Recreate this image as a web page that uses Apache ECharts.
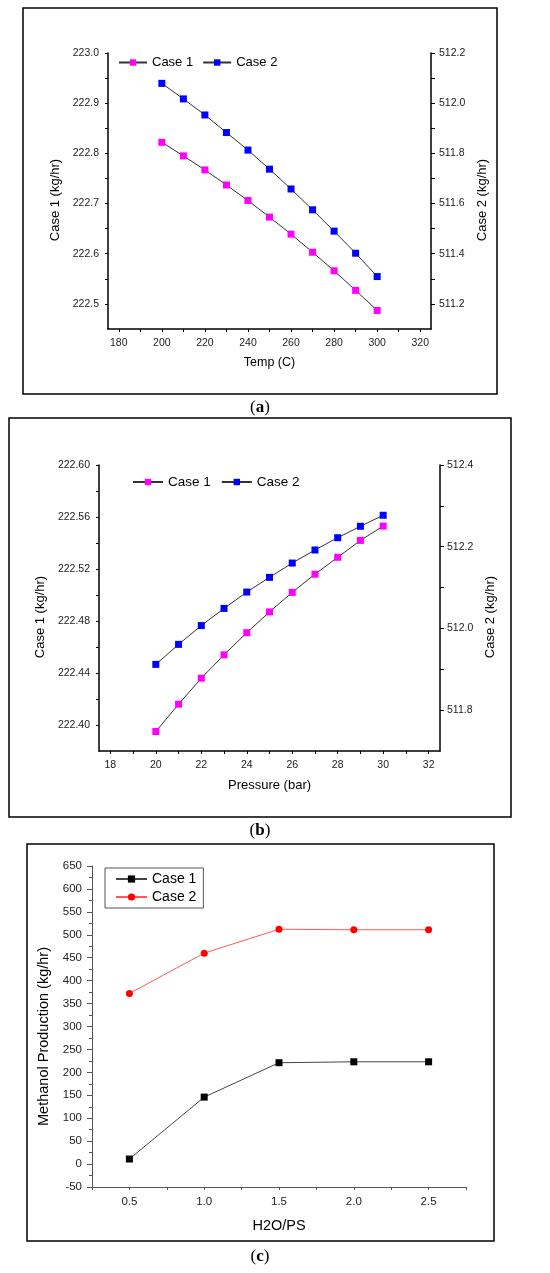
<!DOCTYPE html>
<html>
<head>
<meta charset="utf-8">
<script src="https://cdn.jsdelivr.net/npm/echarts@6/dist/echarts.min.js"></script>
<style>
  html, body { margin: 0; padding: 0; background: #fff; }
  #chart { width: 550px; height: 1273px; }
</style>
</head>
<body>
<div id="chart"></div>
<script>
// (a) temperature sweep
const tempX = [200, 210, 220, 230, 240, 250, 260, 270, 280, 290, 300];
const tempCase1 = [222.822, 222.795, 222.767, 222.737, 222.706, 222.673, 222.639, 222.603, 222.566, 222.527, 222.487];
const tempCase2 = [512.079, 512.017, 511.953, 511.883, 511.813, 511.737, 511.658, 511.575, 511.490, 511.402, 511.309];

// (b) pressure sweep
const pressX = [20, 21, 22, 23, 24, 25, 26, 27, 28, 29, 30];
const pressCase1 = [222.395, 222.416, 222.436, 222.454, 222.471, 222.487, 222.502, 222.516, 222.529, 222.542, 222.553];
const pressCase2 = [511.912, 511.961, 512.007, 512.049, 512.089, 512.125, 512.160, 512.192, 512.222, 512.250, 512.277];

// (c) H2O/PS ratio
const ratioX = [0.5, 1.0, 1.5, 2.0, 2.5];
const ratioCase1 = [11, 146, 221, 223, 223];
const ratioCase2 = [372, 460, 512, 511, 511];

// tick positions and labels
const tempTicks = [180, 190, 200, 210, 220, 230, 240, 250, 260, 270, 280, 290, 300, 310, 320];
const tempLabels = [180, 200, 220, 240, 260, 280, 300, 320];
const aLeftTicks = [222.5, 222.55, 222.6, 222.65, 222.7, 222.75, 222.8, 222.85, 222.9, 222.95, 223.0];
const aLeftLabels = [222.5, 222.6, 222.7, 222.8, 222.9, 223.0];
const aRightTicks = [511.2, 511.3, 511.4, 511.5, 511.6, 511.7, 511.8, 511.9, 512.0, 512.1, 512.2];
const aRightLabels = [511.2, 511.4, 511.6, 511.8, 512.0, 512.2];
const pressTicks = [18, 19, 20, 21, 22, 23, 24, 25, 26, 27, 28, 29, 30, 31, 32];
const pressLabels = [18, 20, 22, 24, 26, 28, 30, 32];
const bLeftTicks = [222.40, 222.42, 222.44, 222.46, 222.48, 222.50, 222.52, 222.54, 222.56, 222.58, 222.60];
const bLeftLabels = [222.40, 222.44, 222.48, 222.52, 222.56, 222.60];
const bRightTicks = [511.8, 511.9, 512.0, 512.1, 512.2, 512.3, 512.4];
const bRightLabels = [511.8, 512.0, 512.2, 512.4];
const ratioTicks = [0.25, 0.5, 0.75, 1.0, 1.25, 1.5, 1.75, 2.0, 2.25, 2.5, 2.75];
const ratioLabels = [0.5, 1.0, 1.5, 2.0, 2.5];

const FONT = 'Liberation Sans, Arial, sans-serif';

const pairs = (xs, ys) => xs.map((x, i) => [x, ys[i]]);

function axis(o) {
  return {
    type: 'value',
    gridIndex: o.grid,
    position: o.position,
    min: o.min,
    max: o.max,
    name: o.name,
    nameLocation: 'middle',
    nameGap: o.nameGap,
    nameRotate: o.nameRotate,
    nameTextStyle: Object.assign({ fontFamily: FONT, fontSize: 13, color: '#000' }, o.nameStyle || {}),
    axisLine: { show: true, onZero: false, lineStyle: { color: o.lineColor || '#000', width: o.lineWidth || 1.5 } },
    axisTick: { show: true, length: o.tickLen || 3, customValues: o.ticks, lineStyle: { color: o.lineColor || '#000', width: 1 } },
    axisLabel: {
      customValues: o.labels,
      margin: o.margin || 9,
      fontFamily: FONT,
      fontSize: o.labelSize || 10,
      color: '#222',
      formatter: v => v.toFixed(o.digits)
    },
    splitLine: { show: false }
  };
}

function line(name, xi, yi, xs, ys, color, lineColor, symbol, size) {
  return {
    type: 'line',
    name: name,
    xAxisIndex: xi,
    yAxisIndex: yi,
    data: pairs(xs, ys),
    symbol: symbol,
    symbolSize: size,
    showSymbol: true,
    lineStyle: { color: lineColor, width: 1 },
    itemStyle: { color: color },
    z: 3
  };
}

function caption(letter, y) {
  return {
    type: 'text', x: 260, y: y,
    style: {
      text: '({b|' + letter + '})',
      rich: { b: { fontWeight: 'bold', fontFamily: 'Liberation Serif', fontSize: 17 } },
      fontFamily: 'Liberation Serif', fontSize: 17, fill: '#000',
      align: 'center', verticalAlign: 'middle'
    }
  };
}

function frame(x, y, w, h) {
  return { type: 'rect', shape: { x: x, y: y, width: w, height: h }, style: { fill: 'none', stroke: '#000', lineWidth: 1.5 } };
}

const chart = echarts.init(document.getElementById('chart'), null, { renderer: 'canvas' });

chart.setOption({
  animation: false,
  backgroundColor: '#fff',
  grid: [
    { left: 108, top: 53, width: 323, height: 276 },
    { left: 99, top: 465, width: 341, height: 286 },
    { left: 92, top: 866, width: 374, height: 321 }
  ],
  xAxis: [
    axis({ grid: 0, position: 'bottom', min: 175, max: 325, ticks: tempTicks, labels: tempLabels, digits: 0,
           name: 'Temp (C)', nameGap: 27, nameStyle: { fontSize: 12.5 }, labelSize: 10.5 }),
    axis({ grid: 1, position: 'bottom', min: 17.5, max: 32.5, ticks: pressTicks, labels: pressLabels, digits: 0,
           name: 'Pressure (bar)', nameGap: 28, labelSize: 10.5 }),
    axis({ grid: 2, position: 'bottom', min: 0.25, max: 2.75, ticks: ratioTicks, labels: ratioLabels, digits: 1,
           name: 'H2O/PS', nameGap: 31, nameStyle: { fontSize: 14.5 }, labelSize: 11.5,
           lineColor: '#555', lineWidth: 1 })
  ],
  yAxis: [
    axis({ grid: 0, position: 'left', min: 222.45, max: 223.0, ticks: aLeftTicks, labels: aLeftLabels, digits: 1,
           name: 'Case 1 (kg/hr)', nameGap: 40, nameRotate: 90, labelSize: 10.5,
           nameStyle: { padding: [0, 18, 0, 0] } }),
    axis({ grid: 0, position: 'right', min: 511.1, max: 512.2, ticks: aRightTicks, labels: aRightLabels, digits: 1,
           name: 'Case 2 (kg/hr)', nameGap: 40, nameRotate: 90, tickLen: 4, margin: 8, labelSize: 10.5,
           nameStyle: { padding: [0, 18, 0, 0] } }),
    axis({ grid: 1, position: 'left', min: 222.38, max: 222.60, ticks: bLeftTicks, labels: bLeftLabels, digits: 2,
           name: 'Case 1 (kg/hr)', nameGap: 47, nameRotate: 90, labelSize: 10.5,
           nameStyle: { padding: [0, 18, 0, 0] } }),
    axis({ grid: 1, position: 'right', min: 511.7, max: 512.4, ticks: bRightTicks, labels: bRightLabels, digits: 1,
           name: 'Case 2 (kg/hr)', nameGap: 38, nameRotate: 90, tickLen: 4, margin: 7, labelSize: 10.5,
           nameStyle: { padding: [0, 18, 0, 0] } }),
    {
      type: 'value',
      gridIndex: 2,
      position: 'left',
      min: -50,
      max: 650,
      interval: 50,
      name: 'Methanol Production (kg/hr)',
      nameLocation: 'middle',
      nameGap: 36,
      nameRotate: 90,
      nameTextStyle: { fontFamily: FONT, fontSize: 14.5, color: '#000', padding: [0, 20, 0, 0] },
      axisLine: { show: true, onZero: false, lineStyle: { color: '#555', width: 1 } },
      axisTick: { show: true, length: 5, lineStyle: { color: '#555' } },
      minorTick: { show: true, splitNumber: 2, length: 3, lineStyle: { color: '#555' } },
      axisLabel: { margin: 10, fontFamily: FONT, fontSize: 11.5, color: '#222' },
      splitLine: { show: false }
    }
  ],
  legend: [
    {
      data: ['a|Case 1', 'a|Case 2'],
      left: 118, top: 56, padding: 0, itemGap: 9,
      itemWidth: 28, itemHeight: 8,
      formatter: n => n.split('|')[1],
      textStyle: { fontFamily: FONT, fontSize: 13, color: '#000' },
      selectedMode: false
    },
    {
      data: ['b|Case 1', 'b|Case 2'],
      left: 132, top: 475, padding: 0, itemGap: 10,
      itemWidth: 30, itemHeight: 8,
      formatter: n => n.split('|')[1],
      textStyle: { fontFamily: FONT, fontSize: 13.5, color: '#000' },
      selectedMode: false
    },
    {
      data: ['c|Case 1', 'c|Case 2'],
      orient: 'vertical',
      left: 105, top: 868, padding: [4, 7, 4, 10], itemGap: 4,
      itemWidth: 31, itemHeight: 9,
      borderColor: '#555', borderWidth: 1,
      formatter: n => n.split('|')[1],
      textStyle: { fontFamily: FONT, fontSize: 14, color: '#000' },
      selectedMode: false
    }
  ],
  series: [
    line('a|Case 1', 0, 0, tempX, tempCase1, '#ff00ff', '#333', 'rect', 7),
    line('a|Case 2', 0, 1, tempX, tempCase2, '#0000ff', '#333', 'rect', 7),
    line('b|Case 1', 1, 2, pressX, pressCase1, '#ff00ff', '#333', 'rect', 7),
    line('b|Case 2', 1, 3, pressX, pressCase2, '#0000ff', '#333', 'rect', 7),
    line('c|Case 1', 2, 4, ratioX, ratioCase1, '#000', '#444', 'rect', 7),
    line('c|Case 2', 2, 4, ratioX, ratioCase2, '#ff0000', '#ff5a5a', 'circle', 7)
  ],
  graphic: [
    frame(23, 8, 474, 386),
    frame(9, 418, 502, 399),
    frame(27, 844, 467, 397),
    caption('a', 408),
    caption('b', 831),
    caption('c', 1257)
  ]
});
</script>
</body>
</html>
